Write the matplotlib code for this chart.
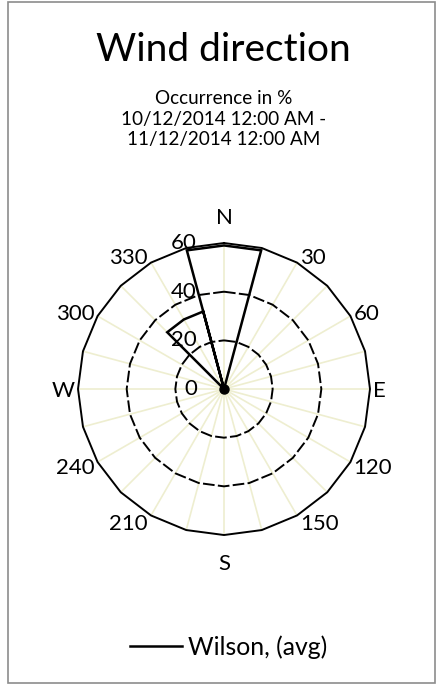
import numpy as np
import matplotlib
matplotlib.use("Agg")
import matplotlib.pyplot as plt
import matplotlib.transforms as mtransforms
from matplotlib.lines import Line2D
from matplotlib.patches import Rectangle

plt.rcParams['font.family'] = ['Lato', 'DejaVu Sans']

# sectors of 30 degrees, occurrence in %
sectors = [0, 30, 60, 90, 120, 150, 180, 210, 240, 270, 300, 330]
occurrence = [59, 0, 0, 0, 0, 0, 0, 0, 0, 0, 0, 33]
dir_labels = ["N", "30", "60", "E", "120", "150", "S", "210", "240", "W", "300", "330"]
rings = [20, 40, 60]
ring_labels = ["0", "20", "40", "60"]
series_name = "Wilson, (avg)"

fig = plt.figure(figsize=(4.37, 6.84), dpi=100)
fig.patches.append(Rectangle((8 / 437, 1 / 684), 427 / 437, 681 / 684, transform=fig.transFigure,
                             fill=False, edgecolor="#8c8c8c", linewidth=1.2))

ax = fig.add_axes([0.1785, 0.2178, 0.6682, 0.4269], projection="polar")
ax.set_theta_zero_location("N")
ax.set_theta_direction(-1)
ax.set_ylim(0, 60)
ax.grid(False)
ax.spines["polar"].set_visible(False)
ax.set_yticks([])
ax.set_xticks([])
ax.patch.set_visible(False)

# spokes every 15 degrees
spokes = np.deg2rad(np.arange(0, 360, 15))
for t in spokes:
    ax.plot([t, t], [0, 60], color="#eeeed0", linewidth=1.2, zorder=1)

# polygonal rings
poly = np.deg2rad(np.arange(0, 375, 15))
for r in rings:
    if r == 60:
        ax.plot(poly, [r] * len(poly), color="black", linewidth=1.4, zorder=2, clip_on=False)
    else:
        ax.plot(poly, [r] * len(poly), color="black", linewidth=1.4, dashes=(6, 1.7), zorder=2)

# wedge-style series line
th, rr = [], []
for c, v in zip(sectors, occurrence):
    if v <= 0:
        continue
    th += [c - 15, c - 15, c, c + 15, c + 15]
    rr += [0, v, v, v, 0]
ax.plot(np.deg2rad(th), rr, color="black", linewidth=1.8, zorder=3, solid_joinstyle="miter")
ax.plot([0], [0], "o", color="black", markersize=6.5, zorder=3)

# direction labels, Excel-like placement around the outer ring
px = 72 / fig.dpi
for a, lab in zip(sectors, dir_labels):
    s, c = np.sin(np.deg2rad(a)), np.cos(np.deg2rad(a))
    if abs(s) < 0.1:
        ha, dx, dy = "center", 0, c * 27 - 2
    else:
        ha = "left" if s > 0 else "right"
        dx, dy = np.sign(s) * 3, c * 8 - 2
    ax.annotate(lab, xy=(np.deg2rad(a), 60), xytext=(dx * px, dy * px),
                textcoords="offset points", ha=ha, va="center", fontsize=16, annotation_clip=False)

# value labels left of the vertical axis
off = mtransforms.offset_copy(ax.transData, fig=fig, x=-27, y=0, units="dots")
for v, lab in zip([0] + rings, ring_labels):
    ax.text(0, v, lab, transform=off, ha="right", va="center", fontsize=16)

fig.text(0.511, 1 - 50 / 684, "Wind direction", ha="center", va="center", fontsize=28)
fig.text(0.511, 1 - 119 / 684, "Occurrence in %\n10/12/2014 12:00 AM -\n11/12/2014 12:00 AM",
         ha="center", va="center", fontsize=13.6, linespacing=1.25)

leg_handle = Line2D([], [], color="black", linewidth=1.8)
fig.legend([leg_handle], [series_name], loc="center", bbox_to_anchor=(0.523, 1 - 647 / 684),
           frameon=False, fontsize=17.8, handlelength=2.1, handletextpad=0.25)

fig.savefig("out.png", dpi=100)
